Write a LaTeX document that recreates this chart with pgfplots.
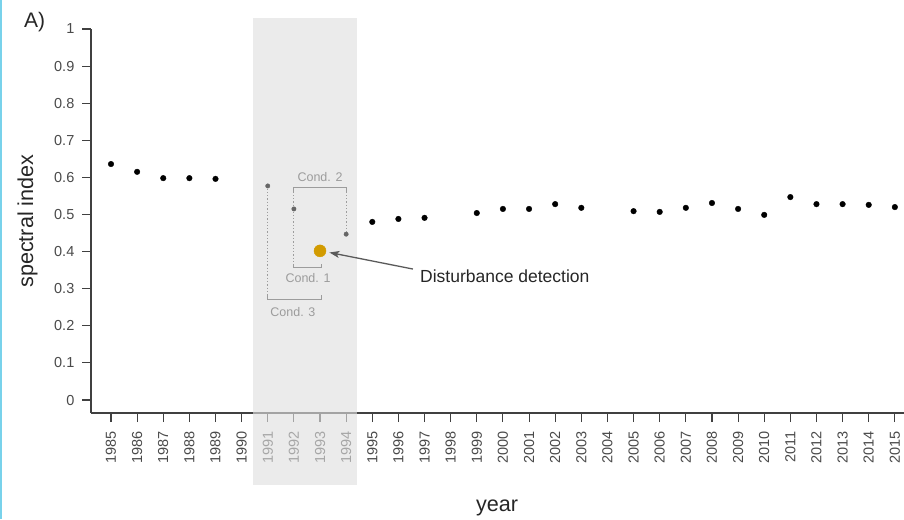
\documentclass[border=0pt]{standalone}
\usepackage{pgfplots}
\pgfplotsset{compat=1.18}
\usepackage{fontspec}
\setmainfont{Liberation Sans}
\usetikzlibrary{arrows.meta}
\definecolor{axisc}{HTML}{404040}
\definecolor{tickc}{HTML}{4A4A4A}
\definecolor{ptgray}{HTML}{666666}
\definecolor{orangec}{RGB}{210,155,0}
\definecolor{annc}{HTML}{9C9C9C}
\definecolor{cyanc}{RGB}{120,210,235}
\definecolor{shadec}{HTML}{DFDFDF}
\definecolor{arrc}{HTML}{5A5A5A}
\definecolor{txtc}{HTML}{262626}
\begin{document}
\begin{tikzpicture}
\begin{axis}[
  set layers=standard,
  at={(0pt,0pt)}, anchor=south west,
  scale only axis, width=813pt, height=384pt,
  xmin=1984.235, xmax=2015.35, ymin=-0.035, ymax=1,
  clip=false,
  axis x line*=bottom, axis y line*=left,
  axis line style={draw=axisc, line width=1.3pt, -},
  every tick/.style={draw=axisc, line width=1.1pt},
  tick align=outside, major tick length=9pt,
  /pgf/number format/assume math mode=true,
  /pgf/number format/1000 sep={},
  xtick={1985,1986,...,2015},
  ytick={0,0.1,0.2,0.3,0.4,0.5,0.6,0.7,0.8,0.9,1},
  yticklabels={0,0.1,0.2,0.3,0.4,0.5,0.6,0.7,0.8,0.9,1},
  tick label style={font=\fontsize{14.5}{17}\selectfont, text=tickc, inner sep=0pt},
  x tick label style={rotate=90, anchor=east},
  xticklabel shift=9pt,
  yticklabel shift=7.5pt,
  xlabel={year},
  xlabel style={at={(axis description cs:0.4994,-0.2578)}, anchor=base, font=\fontsize{21.6}{24}\selectfont, text=txtc, inner sep=0pt},
  ylabel={spectral index},
  ylabel style={at={(axis description cs:-0.0713,0.5)}, anchor=base, font=\fontsize{21.6}{24}\selectfont, text=txtc, inner sep=0pt},
]
\begin{pgfonlayer}{pre main}
\fill[shadec, opacity=0.625] (axis cs:1990.434,1.0296) rectangle (axis cs:1994.414,-0.229);
\end{pgfonlayer}

\addplot[only marks, mark=*, mark size=2.8pt, black] coordinates {
(1985,0.636) (1986,0.615) (1987,0.598) (1988,0.598) (1989,0.596)
(1995,0.480) (1996,0.488) (1997,0.491)
(1999,0.504) (2000,0.515) (2001,0.515) (2002,0.528) (2003,0.518)
(2005,0.509) (2006,0.507) (2007,0.518) (2008,0.531) (2009,0.515)
(2010,0.499) (2011,0.547) (2012,0.528) (2013,0.528) (2014,0.526) (2015,0.520)
};
\addplot[only marks, mark=*, mark size=2.2pt, ptgray, mark options={draw=ptgray, fill=ptgray}] coordinates {
(1991,0.577) (1992,0.515) (1994,0.447)
};

% Cond. 3
\draw[annc, line width=1pt, dash pattern=on 1.3pt off 2pt] (axis cs:1991,0.570) -- (axis cs:1991,0.283);
\draw[annc, line width=1pt] (axis cs:1991,0.283) -- (axis cs:1991,0.2722) -- (axis cs:1993.05,0.2722) -- (axis cs:1993.05,0.283);
\node[annc, font=\fontsize{12.5}{14}\selectfont, inner sep=0pt] at (axis cs:1991.96,0.238) {Cond. 3};
% Cond. 1
\draw[annc, line width=1pt, dash pattern=on 1.3pt off 2pt] (axis cs:1992,0.508) -- (axis cs:1992,0.367);
\draw[annc, line width=1pt] (axis cs:1992,0.367) -- (axis cs:1992,0.356) -- (axis cs:1993.05,0.356) -- (axis cs:1993.05,0.367);
\node[annc, font=\fontsize{12.5}{14}\selectfont, inner sep=0pt] at (axis cs:1992.54,0.329) {Cond. 1};
% Cond. 2
\draw[annc, line width=1pt] (axis cs:1992,0.562) -- (axis cs:1992,0.573) -- (axis cs:1994,0.573) -- (axis cs:1994,0.562);
\draw[annc, line width=1pt, dash pattern=on 1.3pt off 2pt] (axis cs:1992,0.562) -- (axis cs:1992,0.522);
\draw[annc, line width=1pt, dash pattern=on 1.3pt off 2pt] (axis cs:1994,0.562) -- (axis cs:1994,0.454);
\node[annc, font=\fontsize{12.5}{14}\selectfont, inner sep=0pt] at (axis cs:1993.0,0.602) {Cond. 2};

\addplot[only marks, mark=*, mark size=6pt, orangec, mark options={draw=orangec, fill=orangec}] coordinates {(1993,0.402)};

\draw[arrc, line width=1.3pt, -{Stealth[length=10pt,width=7pt,inset=2.5pt]}] (axis cs:1996.556,0.353) -- (axis cs:1993.36,0.3976);
\node[anchor=base west, inner sep=0pt, text=txtc, font=\fontsize{17.5}{20}\selectfont] at (axis cs:1996.824,0.318) {Disturbance detection};

\node[anchor=base west, inner sep=0pt, text=txtc, font=\fontsize{21}{24}\selectfont] at (axis description cs:-0.0824,1.0026) {A)};
\end{axis}
\pgfresetboundingbox
\useasboundingbox (-91pt,-106pt) rectangle (813pt,413pt);
\draw[cyanc, line width=2pt] (-90pt,-106pt) -- (-90pt,413pt);
\end{tikzpicture}
\end{document}
